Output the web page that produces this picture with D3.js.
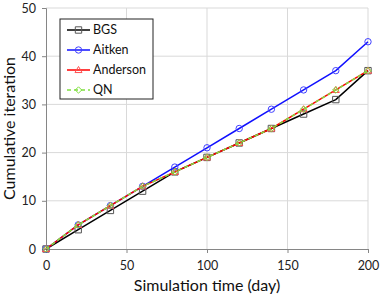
<!DOCTYPE html>
<html>
<head>
<meta charset="utf-8">
<script src="https://cdn.jsdelivr.net/npm/d3@7"></script>
<style>
  body { margin: 0; background: #fff; }
  text { font-family: Lato, "Open Sans", sans-serif; }
</style>
</head>
<body>
<div id="chart"></div>
<script>
const days = [0, 20, 40, 60, 80, 100, 120, 140, 160, 180, 200]
const bgs = [0, 4, 8, 12, 16, 19, 22, 25, 28, 31, 37]
const aitken = [0, 5, 9, 13, 17, 21, 25, 29, 33, 37, 43]
const anderson = [0, 5, 9, 13, 16, 19, 22, 25, 29, 33, 37]
const qn = [0, 5, 9, 13, 16, 19, 22, 25, 29, 33, 37]
const xTicks = [0, 50, 100, 150, 200]
const yTicks = [0, 10, 20, 30, 40, 50]

const series = [
  { name: 'BGS', values: bgs, color: '#000', markColor: '#555', shape: 'square', dash: null },
  { name: 'Aitken', values: aitken, color: '#1010ff', markColor: '#4040ff', shape: 'circle', dash: null },
  { name: 'Anderson', values: anderson, color: '#ff0000', markColor: '#ff5050', shape: 'triangle', dash: null },
  { name: 'QN', values: qn, color: '#80e040', markColor: '#80e040', shape: 'diamond', dash: '4,3' }
]

const W = 380, H = 298
const m = { left: 46, right: 12, top: 8, bottom: 49 }

const svg = d3.select('#chart').append('svg')
  .attr('width', W)
  .attr('height', H)

const x = d3.scaleLinear().domain([0, 200]).range([m.left, W - m.right])
const y = d3.scaleLinear().domain([0, 50]).range([H - m.bottom, m.top])

// grid
svg.append('g').selectAll('line.gy')
  .data(yTicks.slice(1))
  .enter().append('line')
  .attr('x1', x(0)).attr('x2', x(200))
  .attr('y1', d => y(d)).attr('y2', d => y(d))
  .attr('stroke', '#d9d9d9')
svg.append('g').selectAll('line.gx')
  .data(xTicks.slice(1))
  .enter().append('line')
  .attr('x1', d => x(d)).attr('x2', d => x(d))
  .attr('y1', y(0)).attr('y2', y(50))
  .attr('stroke', '#d9d9d9')

// axes
const xAxis = svg.append('g')
  .attr('transform', `translate(0,${y(0)})`)
  .call(d3.axisBottom(x).tickValues(xTicks).tickSize(4).tickPadding(8))
const yAxis = svg.append('g')
  .attr('transform', `translate(${x(0)},0)`)
  .call(d3.axisLeft(y).tickValues(yTicks).tickSize(4).tickPadding(6))

for (const ax of [xAxis, yAxis]) {
  ax.select('.domain').attr('stroke', '#868686')
  ax.selectAll('.tick line').attr('stroke', '#868686')
  ax.selectAll('.tick text').attr('font-size', 12.5).attr('fill', '#222')
    .style('font-family', 'Lato, "Open Sans", sans-serif')
}

function symbolPath (shape, cx, cy, r) {
  if (shape === 'square') return `M${cx - r},${cy - r}h${2 * r}v${2 * r}h${-2 * r}Z`
  if (shape === 'circle') return `M${cx - r},${cy}a${r},${r} 0 1,0 ${2 * r},0a${r},${r} 0 1,0 ${-2 * r},0`
  if (shape === 'triangle') return `M${cx},${cy - r * 1.1}L${cx + r * 1.1},${cy + r * 0.8}L${cx - r * 1.1},${cy + r * 0.8}Z`
  return `M${cx},${cy - r}L${cx + r},${cy}L${cx},${cy + r}L${cx - r},${cy}Z`
}

const line = d3.line()
  .x((d, i) => x(days[i]))
  .y(d => y(d))

series.forEach(s => {
  const g = svg.append('g')
  g.append('path')
    .attr('d', line(s.values))
    .attr('fill', 'none')
    .attr('stroke', s.color)
    .attr('stroke-width', 1.5)
    .attr('stroke-dasharray', s.dash)
  g.selectAll('path.mk')
    .data(s.values)
    .enter().append('path')
    .attr('class', 'mk')
    .attr('d', (d, i) => symbolPath(s.shape, x(days[i]), y(d), 3.2))
    .attr('fill', 'none')
    .attr('stroke', s.markColor)
    .attr('stroke-width', 1)
})

// legend
const lg = svg.append('g').attr('transform', 'translate(60,19)')
lg.append('rect')
  .attr('width', 93).attr('height', 80)
  .attr('fill', '#fff').attr('stroke', '#222').attr('stroke-width', 1)
series.forEach((s, i) => {
  const cy = 11 + i * 20
  lg.append('line')
    .attr('x1', 7).attr('x2', 30)
    .attr('y1', cy).attr('y2', cy)
    .attr('stroke', s.color).attr('stroke-width', 1.5)
    .attr('stroke-dasharray', s.dash)
  lg.append('path')
    .attr('d', symbolPath(s.shape, 18.5, cy, 3.2))
    .attr('fill', 'none').attr('stroke', s.markColor)
  lg.append('text')
    .attr('x', 33).attr('y', cy)
    .attr('dy', '0.35em')
    .attr('font-size', 12.5)
    .attr('fill', '#111')
    .text(s.name)
})

// titles
svg.append('text')
  .attr('x', (x(0) + x(200)) / 2).attr('y', 291)
  .attr('text-anchor', 'middle')
  .attr('font-size', 16)
  .attr('fill', '#111')
  .text('Simulation time (day)')
svg.append('text')
  .attr('transform', `translate(15,${(y(0) + y(50)) / 2}) rotate(-90)`)
  .attr('text-anchor', 'middle')
  .attr('font-size', 16)
  .attr('fill', '#111')
  .text('Cumulative iteration')
</script>
</body>
</html>
